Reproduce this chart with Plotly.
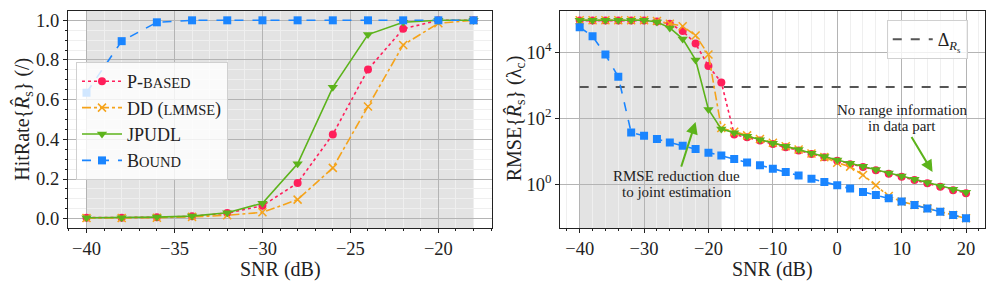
import plotly.graph_objects as go

# ---------------- data ----------------
snr_left = [-40, -38, -36, -34, -32, -30, -28, -26, -24, -22, -20, -18]
hit_pbased = [0.005, 0.005, 0.007, 0.012, 0.028, 0.065, 0.18, 0.425, 0.752, 0.957, 1.0, 1.0]
hit_dd = [0.003, 0.003, 0.005, 0.009, 0.017, 0.032, 0.096, 0.256, 0.566, 0.876, 0.985, 1.0]
hit_jpudl = [0.005, 0.005, 0.008, 0.013, 0.03, 0.078, 0.277, 0.662, 0.928, 0.99, 1.0, 1.0]
hit_bound = [0.635, 0.895, 0.99, 1.0, 1.0, 1.0, 1.0, 1.0, 1.0, 1.0, 1.0, 1.0]

snr_right = list(range(-40, 21, 2))
rmse_pbased = [9.3e4, 9.3e4, 9.3e4, 9.3e4, 9.3e4, 9.3e4, 8.8e4, 7.5e4, 4.5e4, 1.87e4, 3.9e3,
               1.25e3, 33, 27, 21.5, 17, 13.5, 10.8, 8.4, 6.7, 5.3, 4.15, 3.4, 2.7, 2.12,
               1.72, 1.37, 1.09, 0.86, 0.68, 0.55]
rmse_dd = [9.5e4, 9.5e4, 9.5e4, 9.5e4, 9.5e4, 9.5e4, 9.0e4, 7.5e4, 6.3e4, 3.3e4, 8.7e3,
           52, 40, 31, 24, 18.5, 14.5, 11.5, 8.7, 6.8, 4.6, 3.5, 1.95, 0.95, 0.45,
           0.305, 0.24, 0.19, 0.15, 0.12, 0.095]
rmse_jpudl = [9.5e4, 9.5e4, 9.5e4, 9.5e4, 9.5e4, 9.5e4, 8.5e4, 5.6e4, 2.6e4, 6.0e3, 190,
              48, 37, 29, 23, 18, 14.4, 11.5, 8.9, 7.1, 5.6, 4.4, 3.6, 2.85, 2.24,
              1.82, 1.45, 1.15, 0.91, 0.72, 0.59]
rmse_bound = [5.9e4, 3.1e4, 8.7e3, 1.85e3, 38, 30, 24, 19, 15, 12, 9.3,
              7.6, 6.0, 4.7, 3.85, 3.0, 2.4, 1.9, 1.5, 1.2, 0.95, 0.76, 0.6, 0.48, 0.385,
              0.305, 0.24, 0.19, 0.15, 0.12, 0.095]
delta_snr = [-40, 20]
delta_rs = [900, 900]

left_xticks = [-40, -35, -30, -25, -20]
left_yticks = [0.0, 0.2, 0.4, 0.6, 0.8, 1.0]
right_xticks = [-40, -30, -20, -10, 0, 10, 20]
right_yticks = [1, 100, 10000]
right_yticktext = ["10<sup>0</sup>", "10<sup>2</sup>", "10<sup>4</sup>"]

names = ["P-<span style='font-size:14.5px'>BASED</span>",
         "DD (<span style='font-size:14.5px'>LMMSE</span>)",
         "JPUDL",
         "B<span style='font-size:14.5px'>OUND</span>"]

# ---------------- styles ----------------
RED = "#ff1f5b"
ORANGE = "#f5a31a"
GREEN = "#5cb31b"
BLUE = "#1a85ff"
FONT = "Liberation Serif, DejaVu Serif, Noto Serif, serif"
GRID = "#b4b4b4"
MINOR = "#efefef"
SHADE = "#e3e3e3"

fig = go.Figure()

styles = [
    (RED, "dot", dict(symbol="circle", size=8, color=RED)),
    (ORANGE, "dashdot", dict(symbol="x-thin", size=8, color=ORANGE, line=dict(color=ORANGE, width=1.5))),
    (GREEN, "solid", dict(symbol="triangle-down", size=9, color=GREEN)),
    (BLUE, "dash", dict(symbol="square", size=8, color=BLUE)),
]

left_series = [hit_pbased, hit_dd, hit_jpudl, hit_bound]
right_series = [rmse_pbased, rmse_dd, rmse_jpudl, rmse_bound]

for name, ys, (col, dash, mk) in zip(names, left_series, styles):
    fig.add_trace(go.Scatter(x=snr_left, y=ys, mode="lines+markers", name=name,
                             line=dict(color=col, dash=dash, width=1.6), marker=mk,
                             xaxis="x", yaxis="y", legend="legend"))

fig.add_trace(go.Scatter(x=delta_snr, y=delta_rs, mode="lines",
                         name="Δ<sub><i>R</i><sub>s</sub></sub>",
                         line=dict(color="#555555", dash="dash", width=2),
                         xaxis="x2", yaxis="y2", legend="legend2"))

for name, ys, (col, dash, mk) in zip(names, right_series, styles):
    fig.add_trace(go.Scatter(x=snr_right, y=ys, mode="lines+markers", name=name,
                             line=dict(color=col, dash=dash, width=1.6), marker=mk,
                             xaxis="x2", yaxis="y2", showlegend=False))

# shaded regions
fig.add_shape(type="rect", xref="x", yref="y domain", x0=-40, x1=-18, y0=0, y1=1,
              fillcolor=SHADE, line_width=0, layer="below")
fig.add_shape(type="rect", xref="x2", yref="y2 domain", x0=-40, x1=-18, y0=0, y1=1,
              fillcolor=SHADE, line_width=0, layer="below")

axis_common = dict(showline=True, mirror=True, linecolor="#222222", linewidth=1.2,
                   ticks="outside", ticklen=4, tickcolor="#222222",
                   tickfont=dict(family=FONT, size=18.5, color="#222222"),
                   gridcolor=GRID, gridwidth=1, zeroline=False)

fig.update_layout(
    width=996, height=285,
    margin=dict(l=0, r=0, t=0, b=0),
    paper_bgcolor="white", plot_bgcolor="white",
    font=dict(family=FONT, color="#222222"),
    xaxis=dict(domain=[0.0683, 0.494], range=[-41.05, -16.95], tickvals=left_xticks,
               minor=dict(dtick=1, ticklen=2, ticks="outside", showgrid=True, gridcolor=MINOR, tickcolor="#222222"),
               anchor="y", **axis_common),
    yaxis=dict(domain=[0.2, 0.9614], range=[-0.047, 1.047], tickvals=left_yticks, tickformat=".1f",
               minor=dict(dtick=0.05, ticklen=2, ticks="outside", showgrid=True, gridcolor=MINOR, tickcolor="#222222"),
               anchor="x", **axis_common),
    xaxis2=dict(domain=[0.5626, 0.9893], range=[-43, 23], tickvals=right_xticks,
                minor=dict(dtick=2, ticklen=2, ticks="outside", showgrid=True, gridcolor=MINOR, tickcolor="#222222"),
                anchor="y2", **axis_common),
    yaxis2=dict(domain=[0.2, 0.9614], type="log", range=[-1.315, 5.26], tickvals=right_yticks,
                ticktext=right_yticktext, anchor="x2", **axis_common),
    legend=dict(x=0.0763, y=1 - 62 / 285, xanchor="left", yanchor="top",
                bgcolor="rgba(255,255,255,0.8)", bordercolor="#d0d0d0", borderwidth=1,
                font=dict(family=FONT, size=18, color="#222222"), itemwidth=40,
                tracegroupgap=0),
    legend2=dict(x=0.8903, y=0.93, xanchor="left", yanchor="top",
                 bgcolor="rgba(255,255,255,0.8)", bordercolor="#d0d0d0", borderwidth=1,
                 font=dict(family=FONT, size=18, color="#222222"), itemwidth=40),
    showlegend=True,
)

ann_font = dict(family=FONT, size=15, color="#222222")
title_font = dict(family=FONT, size=20, color="#222222")
annotations = [
    dict(text="SNR (dB)", xref="paper", yref="paper", x=(0.0683 + 0.494) / 2, y=1 - 269 / 285,
         showarrow=False, font=title_font, xanchor="center", yanchor="middle"),
    dict(text="SNR (dB)", xref="paper", yref="paper", x=(0.5626 + 0.9893) / 2, y=1 - 269 / 285,
         showarrow=False, font=title_font, xanchor="center", yanchor="middle"),
    dict(text="HitRate{<i>R̂</i><sub>s</sub>} (/)", xref="paper", yref="paper", x=23 / 996, y=0.58,
         textangle=-90, showarrow=False, font=title_font, xanchor="center", yanchor="middle"),
    dict(text="RMSE{<i>R̂</i><sub>s</sub>} (λ<sub>c</sub>)", xref="paper", yref="paper", x=515 / 996, y=0.585,
         textangle=-90, showarrow=False, font=title_font, xanchor="center", yanchor="middle"),
    # text blocks (log10 units on the log axis)
    dict(text="RMSE reduction due", xref="x2", yref="y2", x=-24.9, y=0.25, showarrow=False, font=ann_font),
    dict(text="to joint estimation", xref="x2", yref="y2", x=-24.9, y=-0.22, showarrow=False, font=ann_font),
    dict(text="No range information", xref="x2", yref="y2", x=10.0, y=2.25, showarrow=False, font=ann_font),
    dict(text="in data part", xref="x2", yref="y2", x=10.0, y=1.78, showarrow=False, font=ann_font),
    # arrows
    dict(text="", xref="x2", yref="y2", axref="x2", ayref="y2", x=-22.0, y=1.9, ax=-24.3, ay=0.5,
         showarrow=True, arrowhead=2, arrowsize=1.2, arrowwidth=2, arrowcolor=GREEN, standoff=0),
    dict(text="", xref="x2", yref="y2", axref="x2", ayref="y2", x=14.8, y=0.38, ax=11.4, ay=1.49,
         showarrow=True, arrowhead=2, arrowsize=1.2, arrowwidth=2, arrowcolor=GREEN, standoff=0),
]
fig.update_layout(annotations=annotations)

fig.write_html("out.html", config={"displayModeBar": False},
               post_script="document.body.style.margin='0px';")
